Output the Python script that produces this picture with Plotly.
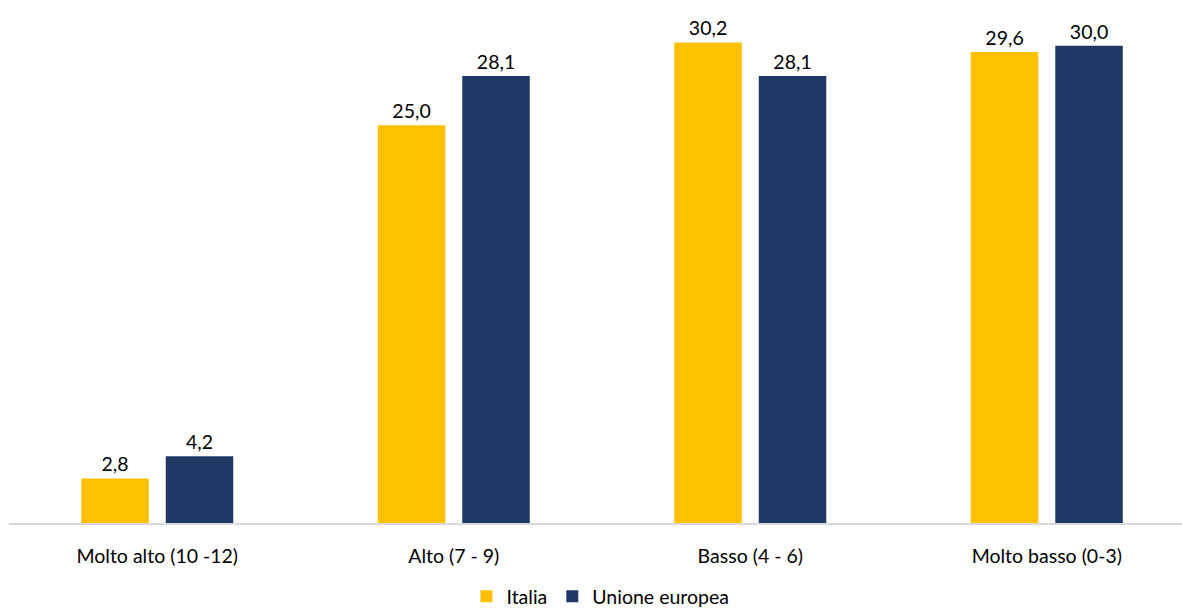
import plotly.graph_objects as go

categories = ["Molto alto (10 -12)", "Alto (7 - 9)", "Basso (4 - 6)", "Molto basso (0-3)"]
italia = [2.8, 25.0, 30.2, 29.6]
ue = [4.2, 28.1, 28.1, 30.0]

def fmt(v):
    return f"{v:.1f}".replace(".", ",")

FONT = "Lato"
FS = 19.5

fig = go.Figure()
fig.add_trace(go.Bar(
    name="Italia", x=categories, y=italia,
    marker=dict(color="#FFC000", line=dict(width=0)),
    text=[fmt(v) for v in italia], textposition="outside",
    textfont=dict(family=FONT, size=FS, color="#000000"),
    cliponaxis=False,
))
fig.add_trace(go.Bar(
    name="Unione europea", x=categories, y=ue,
    marker=dict(color="#1F3864", line=dict(width=0)),
    text=[fmt(v) for v in ue], textposition="outside",
    textfont=dict(family=FONT, size=FS, color="#000000"),
    cliponaxis=False,
))

fig.update_layout(
    width=1182, height=610,
    margin=dict(l=9, r=0, t=0, b=87),
    paper_bgcolor="white", plot_bgcolor="white",
    barmode="group", bargap=0.43, bargroupgap=0.201,
    font=dict(family=FONT, size=FS, color="#000000"),
    showlegend=True,
    legend=dict(
        orientation="h", xref="container", yref="container",
        x=0.508, xanchor="center", y=0.022, yanchor="middle",
        font=dict(family=FONT, size=FS, color="#000000"),
        itemwidth=30, traceorder="normal",
    ),
    uniformtext=dict(mode=False),
)
fig.update_xaxes(
    range=[-0.5, 3.456], showgrid=False, showline=True,
    linecolor="#D9D9D9", linewidth=1.5, ticks="", ticklabelstandoff=15,
    tickfont=dict(family=FONT, size=FS, color="#000000"),
)
fig.update_yaxes(
    range=[0, 32.87], showgrid=False, showticklabels=False,
    zeroline=False, showline=False,
)

fig.write_html("out.html")
